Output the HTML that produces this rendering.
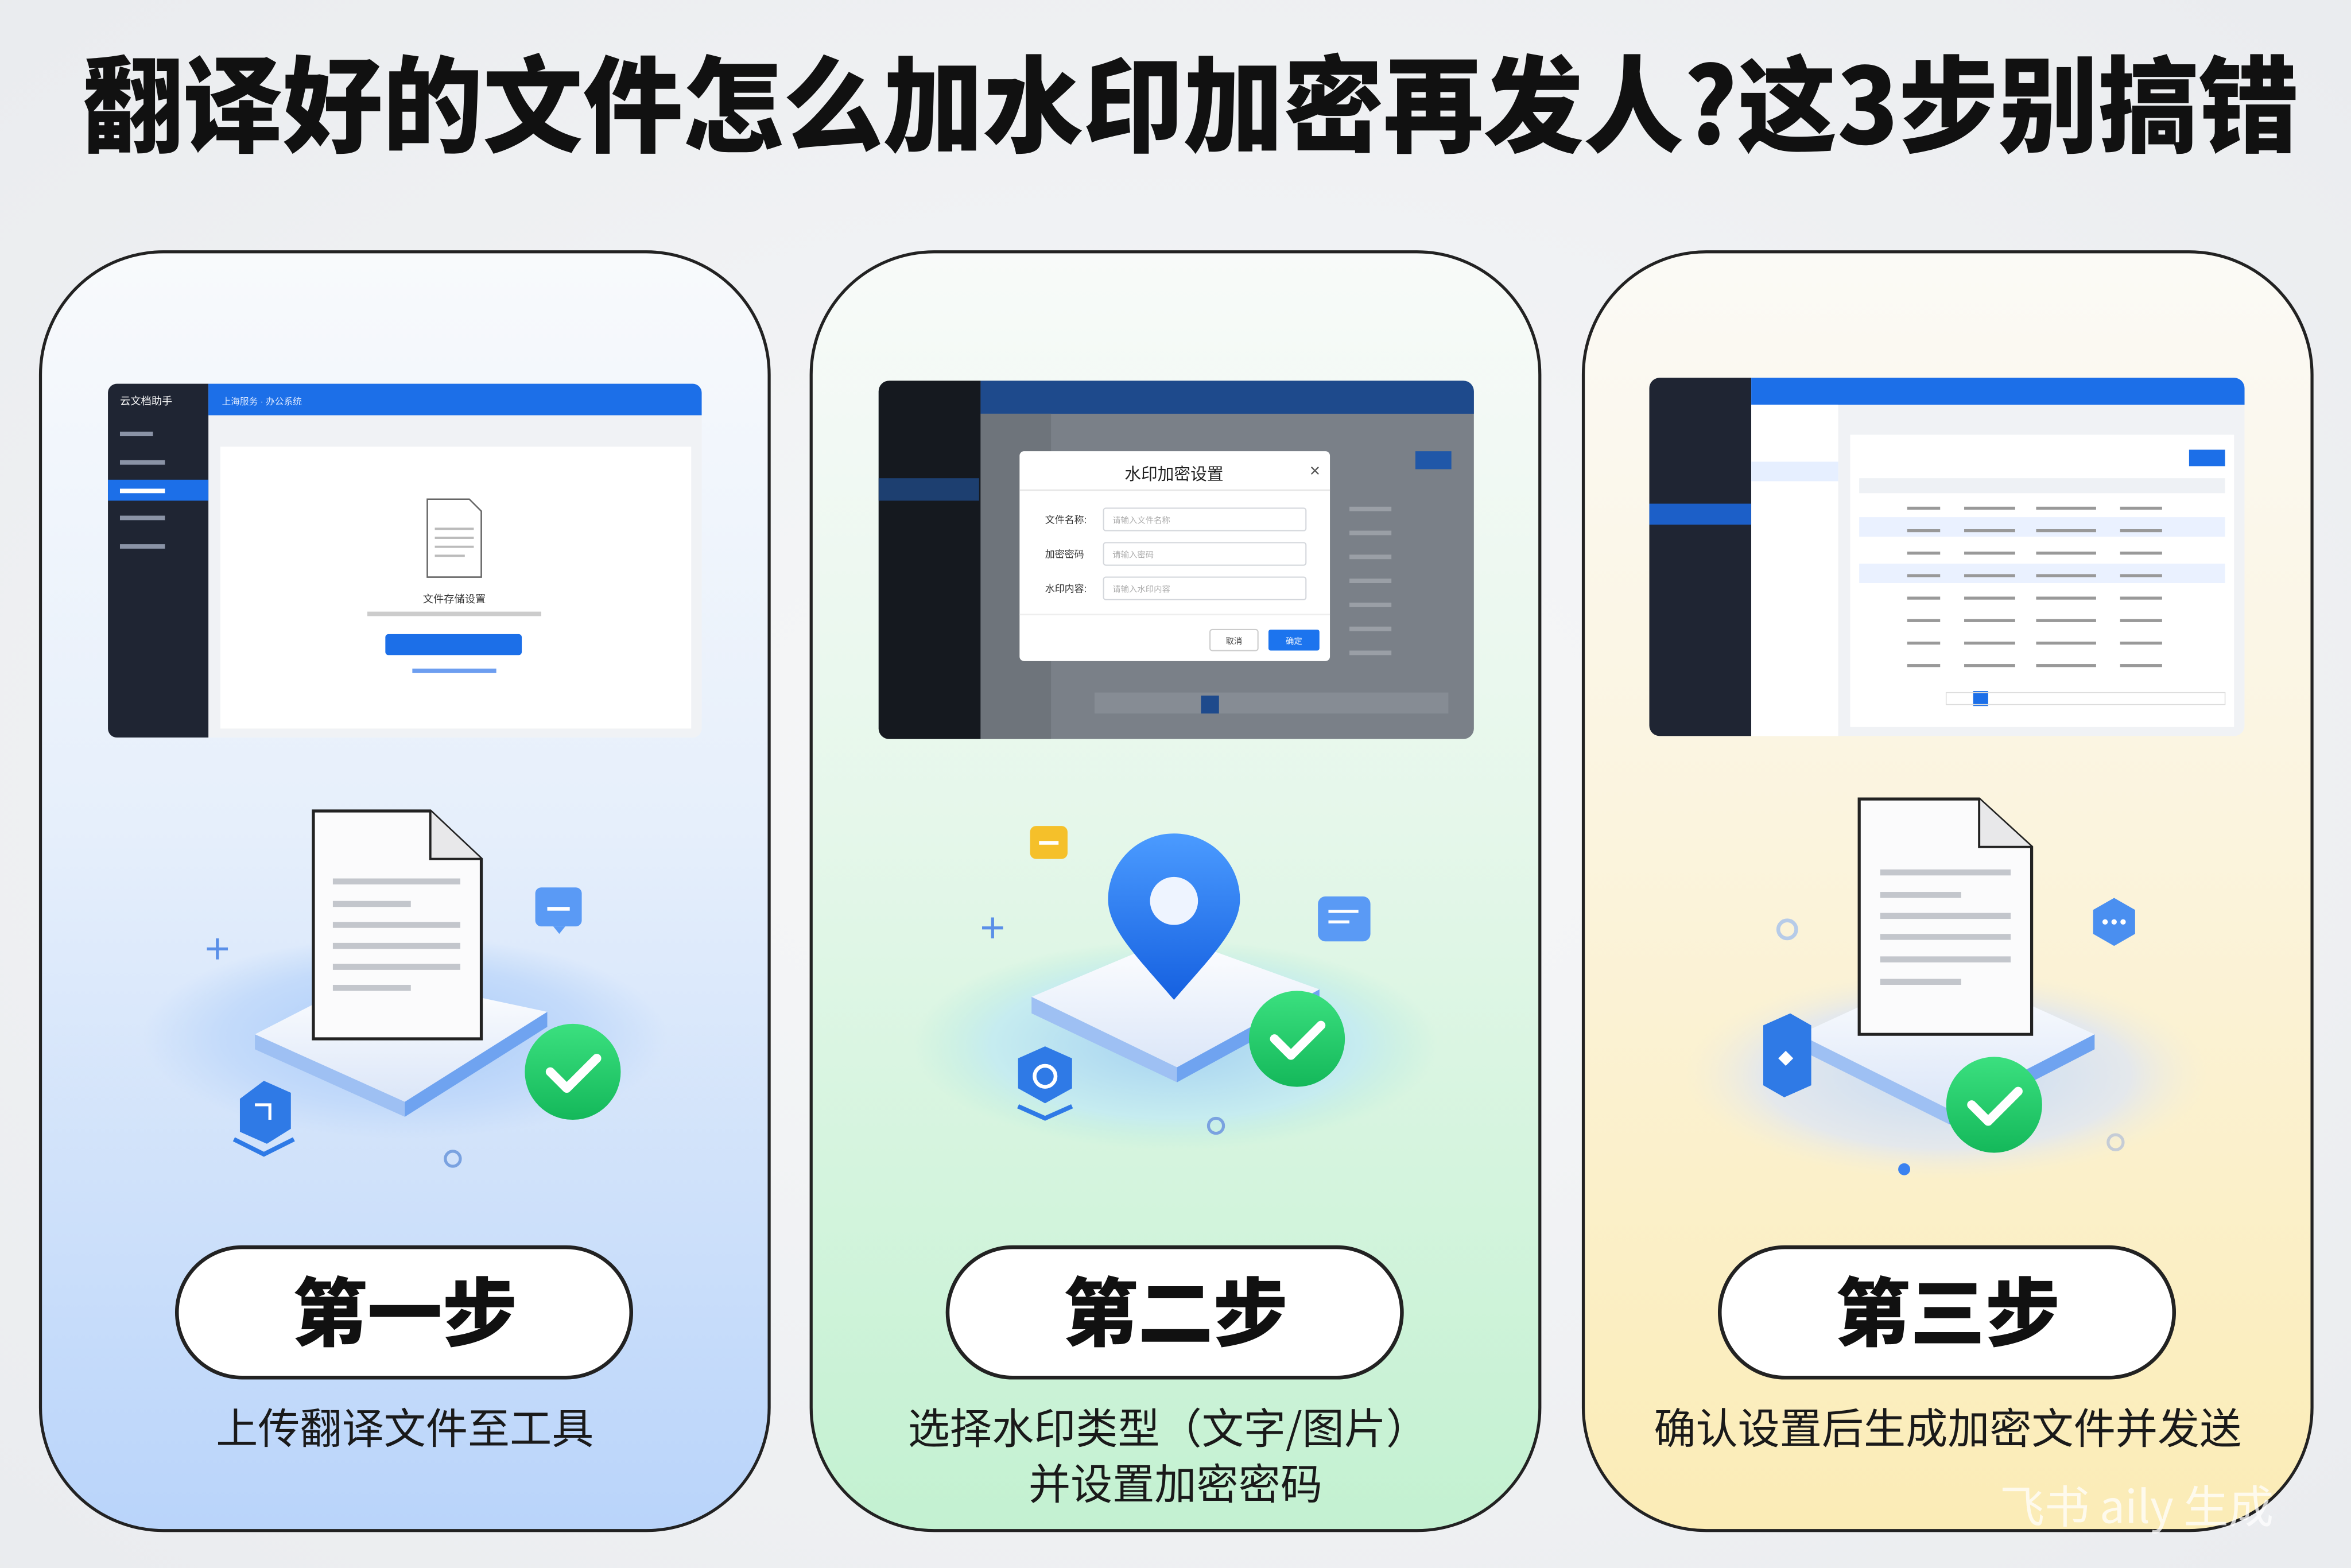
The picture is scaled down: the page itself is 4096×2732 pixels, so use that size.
<!DOCTYPE html>
<html><head><meta charset="utf-8">
<style>
html,body{margin:0;padding:0;background:#eff1f3;}
svg{display:block;font-family:"Liberation Sans","Noto Sans CJK SC",sans-serif;}
</style></head>
<body>
<svg width="4096" height="2732" viewBox="0 0 1568 1046" preserveAspectRatio="none" xmlns="http://www.w3.org/2000/svg">
<defs>
<radialGradient id="bg" cx="0.5" cy="0.5" r="0.75"><stop offset="0" stop-color="#f7f8f9"/><stop offset="1" stop-color="#e9ebee"/></radialGradient>
<linearGradient id="g1" x1="0" y1="0" x2="0" y2="1"><stop offset="0" stop-color="#f8fafc"/><stop offset="0.45" stop-color="#e6effb"/><stop offset="1" stop-color="#b9d4fa"/></linearGradient>
<linearGradient id="g2" x1="0" y1="0" x2="0" y2="1"><stop offset="0" stop-color="#f8faf9"/><stop offset="0.45" stop-color="#e5f7ea"/><stop offset="1" stop-color="#c3f1d1"/></linearGradient>
<linearGradient id="g3" x1="0" y1="0" x2="0" y2="1"><stop offset="0" stop-color="#fbfaf6"/><stop offset="0.45" stop-color="#fbf4de"/><stop offset="1" stop-color="#fbecb6"/></linearGradient>
<radialGradient id="glowB"><stop offset="0" stop-color="#a9cbf8"/><stop offset="0.7" stop-color="#c4dbfa"/><stop offset="1" stop-color="#c4dbfa" stop-opacity="0"/></radialGradient>
<radialGradient id="glowG"><stop offset="0" stop-color="#a6d2f2"/><stop offset="0.7" stop-color="#c6ecf0"/><stop offset="1" stop-color="#bfeedd" stop-opacity="0"/></radialGradient>
<radialGradient id="glowY"><stop offset="0" stop-color="#c8dcf3"/><stop offset="0.7" stop-color="#e4e8ec"/><stop offset="1" stop-color="#f3eed8" stop-opacity="0"/></radialGradient>
<linearGradient id="plat" x1="0" y1="0" x2="0" y2="1"><stop offset="0" stop-color="#ffffff"/><stop offset="1" stop-color="#dbe6f8"/></linearGradient>
<linearGradient id="chk" x1="0" y1="0" x2="0" y2="1"><stop offset="0" stop-color="#3be07f"/><stop offset="1" stop-color="#14b85a"/></linearGradient>
<linearGradient id="pin" x1="0" y1="0" x2="0" y2="1"><stop offset="0" stop-color="#4b9bff"/><stop offset="1" stop-color="#1560e0"/></linearGradient>
</defs>
<rect width="1568" height="1046" fill="url(#bg)"/>
<text x="794" y="96" text-anchor="middle" font-size="70" font-weight="900" fill="#111" textLength="1478" lengthAdjust="spacingAndGlyphs" style="font-family:'Noto Sans CJK SC',sans-serif">翻译好的文件怎么加水印加密再发人?这3步别搞错</text>

<rect x="27" y="168" width="486" height="853" rx="82" fill="url(#g1)" stroke="#222" stroke-width="2"/>
<rect x="541" y="168" width="486" height="853" rx="82" fill="url(#g2)" stroke="#222" stroke-width="2"/>
<rect x="1056" y="168" width="486" height="853" rx="82" fill="url(#g3)" stroke="#222" stroke-width="2"/>

<!-- screenshot 1 -->
<g>
<rect x="72" y="256" width="396" height="236" rx="6" fill="#f0f2f5"/>
<path d="M78 256 H139 V492 H78 a6 6 0 0 1 -6 -6 V262 a6 6 0 0 1 6 -6z" fill="#1f2533"/>
<path d="M139 256 H462 a6 6 0 0 1 6 6 V277 H139z" fill="#1c6fe8"/>
<rect x="72" y="320" width="67" height="14" fill="#1c6fe8"/>
<g fill="#8a93a6"><rect x="80" y="288" width="22" height="3"/><rect x="80" y="307" width="30" height="3"/><rect x="80" y="344" width="30" height="3"/><rect x="80" y="363" width="30" height="3"/></g>
<rect x="80" y="326" width="30" height="3" fill="#fff"/>
<text x="80" y="270" font-size="7" fill="#fff">云文档助手</text>
<text x="148" y="270" font-size="6" fill="#dce8ff">上海服务 · 办公系统</text>
<rect x="147" y="298" width="314" height="188" fill="#fff"/>
<path d="M285 333 h28 l8 8 v44 h-36z" fill="#fff" stroke="#666" stroke-width="1"/>
<g fill="#bbb"><rect x="290" y="352" width="26" height="1.5"/><rect x="290" y="358" width="26" height="1.5"/><rect x="290" y="364" width="26" height="1.5"/><rect x="290" y="370" width="20" height="1.5"/></g>
<text x="303" y="402" font-size="7" text-anchor="middle" fill="#333">文件存储设置</text>
<rect x="245" y="408" width="116" height="3" fill="#ccc"/>
<rect x="257" y="423" width="91" height="14" rx="2" fill="#1c6fe8"/>
<rect x="275" y="446" width="56" height="3" fill="#6d9ef0"/>
</g>

<!-- screenshot 2 -->
<g>
<rect x="586" y="254" width="397" height="239" rx="7" fill="#7a8088"/>
<path d="M593 254 H654 V493 H593 a7 7 0 0 1 -7 -7 V261 a7 7 0 0 1 7 -7z" fill="#15191f"/>
<path d="M654 254 H976 a7 7 0 0 1 7 7 V276 H654z" fill="#1e4a8c"/>
<rect x="586" y="319" width="67" height="15" fill="#1d3f70"/>
<rect x="654" y="276" width="47" height="217" fill="#6e747b"/>
<rect x="944" y="301" width="24" height="12" fill="#2057a8"/>
<g fill="#9a9fa6"><rect x="900" y="338" width="28" height="3"/><rect x="900" y="354" width="28" height="3"/><rect x="900" y="370" width="28" height="3"/><rect x="900" y="386" width="28" height="3"/><rect x="900" y="402" width="28" height="3"/><rect x="900" y="418" width="28" height="3"/><rect x="900" y="434" width="28" height="3"/></g>
<rect x="730" y="462" width="236" height="14" fill="#868c94"/>
<rect x="801" y="464" width="12" height="12" fill="#1e4a8c"/>
<rect x="680" y="301" width="207" height="140" rx="3" fill="#fff"/>
<text x="783" y="320" text-anchor="middle" font-size="11" fill="#222">水印加密设置</text>
<text x="877" y="318" text-anchor="middle" font-size="12" fill="#555">×</text>
<line x1="680" y1="327" x2="887" y2="327" stroke="#e6e6e6"/>
<g font-size="6.5" fill="#333"><text x="697" y="349">文件名称:</text><text x="697" y="372">加密密码</text><text x="697" y="395">水印内容:</text></g>
<g fill="#fff" stroke="#d4d7dc" stroke-width="0.8"><rect x="736" y="339" width="135" height="15" rx="1.5"/><rect x="736" y="362" width="135" height="15" rx="1.5"/><rect x="736" y="385" width="135" height="15" rx="1.5"/></g>
<g font-size="5.5" fill="#aaa"><text x="742" y="349">请输入文件名称</text><text x="742" y="372">请输入密码</text><text x="742" y="395">请输入水印内容</text></g>
<line x1="680" y1="410" x2="887" y2="410" stroke="#eee"/>
<rect x="807" y="420" width="32" height="14" rx="1.5" fill="#fff" stroke="#ccc" stroke-width="0.8"/>
<rect x="846" y="420" width="34" height="14" rx="1.5" fill="#1c74ee"/>
<text x="823" y="429.5" font-size="5.5" text-anchor="middle" fill="#444">取消</text>
<text x="863" y="429.5" font-size="5.5" text-anchor="middle" fill="#fff">确定</text>
</g>

<!-- screenshot 3 -->
<g>
<rect x="1100" y="252" width="397" height="239" rx="7" fill="#f0f2f5"/>
<path d="M1107 252 H1168 V491 H1107 a7 7 0 0 1 -7 -7 V259 a7 7 0 0 1 7 -7z" fill="#1f2533"/>
<path d="M1168 252 H1490 a7 7 0 0 1 7 7 V270 H1168z" fill="#1c6fe8"/>
<rect x="1100" y="336" width="68" height="14" fill="#1c5fc8"/>
<rect x="1168" y="270" width="58" height="221" fill="#fff"/>
<rect x="1168" y="308" width="58" height="13" fill="#e6efff"/>
<rect x="1234" y="290" width="256" height="195" fill="#fff"/>
<rect x="1460" y="300" width="24" height="11" fill="#1c6fe8"/>
<rect x="1240" y="319" width="244" height="10" fill="#eef1f5"/>
<g fill="#eaf1ff"><rect x="1240" y="345" width="244" height="13"/><rect x="1240" y="376" width="244" height="13"/></g>
<g fill="#999"><rect x="1272" y="338" width="22" height="2"/><rect x="1310" y="338" width="34" height="2"/><rect x="1358" y="338" width="40" height="2"/><rect x="1414" y="338" width="28" height="2"/>
<rect x="1272" y="353" width="22" height="2"/><rect x="1310" y="353" width="34" height="2"/><rect x="1358" y="353" width="40" height="2"/><rect x="1414" y="353" width="28" height="2"/>
<rect x="1272" y="368" width="22" height="2"/><rect x="1310" y="368" width="34" height="2"/><rect x="1358" y="368" width="40" height="2"/><rect x="1414" y="368" width="28" height="2"/>
<rect x="1272" y="383" width="22" height="2"/><rect x="1310" y="383" width="34" height="2"/><rect x="1358" y="383" width="40" height="2"/><rect x="1414" y="383" width="28" height="2"/>
<rect x="1272" y="398" width="22" height="2"/><rect x="1310" y="398" width="34" height="2"/><rect x="1358" y="398" width="40" height="2"/><rect x="1414" y="398" width="28" height="2"/>
<rect x="1272" y="413" width="22" height="2"/><rect x="1310" y="413" width="34" height="2"/><rect x="1358" y="413" width="40" height="2"/><rect x="1414" y="413" width="28" height="2"/>
<rect x="1272" y="428" width="22" height="2"/><rect x="1310" y="428" width="34" height="2"/><rect x="1358" y="428" width="40" height="2"/><rect x="1414" y="428" width="28" height="2"/>
<rect x="1272" y="443" width="22" height="2"/><rect x="1310" y="443" width="34" height="2"/><rect x="1358" y="443" width="40" height="2"/><rect x="1414" y="443" width="28" height="2"/></g>
<rect x="1316" y="461" width="10" height="10" fill="#1c6fe8"/>
<rect x="1298" y="462" width="186" height="8" fill="none" stroke="#ddd" stroke-width="0.6"/>
</g>

<!-- illustration 1 -->
<ellipse cx="270" cy="692" rx="175" ry="68" fill="url(#glowB)"/>
<path d="M170 690 L248 650 L365 675 L270 735 Z" fill="url(#plat)"/>
<path d="M170 690 L270 735 L270 745 L170 700 Z" fill="#9ec0f3"/>
<path d="M270 735 L365 675 L365 685 L270 745 Z" fill="#6fa3f0"/>
<path d="M209 541 h78 l34 32 v120 h-112z" fill="#fbfbfc" stroke="#222" stroke-width="2"/>
<path d="M287 541 v32 h34" fill="#e8e8ea" stroke="#222" stroke-width="1.5"/>
<g fill="#c3c6cc"><rect x="222" y="586" width="85" height="4"/><rect x="222" y="601" width="52" height="4"/><rect x="222" y="615" width="85" height="4"/><rect x="222" y="629" width="85" height="4"/><rect x="222" y="643" width="85" height="4"/><rect x="222" y="657" width="52" height="4"/></g>
<circle cx="382" cy="715" r="32" fill="url(#chk)"/>
<path d="M367 715 l11 11 l20 -20" fill="none" stroke="#fff" stroke-width="6" stroke-linecap="round" stroke-linejoin="round"/>
<rect x="357" y="592" width="31" height="26" rx="4" fill="#5a9af5"/><rect x="365" y="605" width="15" height="2.5" fill="#fff"/><path d="M369 618 l4 5 l4 -5z" fill="#5a9af5"/>
<path d="M145 626 v14 M138 633 h14" stroke="#5a8fe8" stroke-width="2"/>
<path d="M160 733 l16 -12 l18 8 v24 l-16 10 l-18 -8z" fill="#2f7ae6"/><path d="M170 737 h10 v10" stroke="#fff" stroke-width="2" fill="none"/><path d="M156 760 l20 10 l20 -10" stroke="#2f7ae6" stroke-width="3" fill="none"/>
<circle cx="302" cy="773" r="5" fill="none" stroke="#7aa2e0" stroke-width="2"/>

<!-- illustration 2 -->
<ellipse cx="784" cy="697" rx="175" ry="70" fill="url(#glowG)"/>
<path d="M688 665 L783 625 L880 660 L785 712 Z" fill="url(#plat)"/>
<path d="M688 665 L785 712 L785 722 L688 676 Z" fill="#9ec0f3"/>
<path d="M785 712 L880 660 L880 670 L785 722 Z" fill="#6fa3f0"/>
<path d="M783 667 C760 640 739 620 739 600 a44 44 0 0 1 88 0 C827 620 806 640 783 667z" fill="url(#pin)"/>
<circle cx="783" cy="601" r="16" fill="#eef4ff"/>
<circle cx="865" cy="693" r="32" fill="url(#chk)"/>
<path d="M850 693 l11 11 l20 -20" fill="none" stroke="#fff" stroke-width="6" stroke-linecap="round" stroke-linejoin="round"/>
<rect x="687" y="551" width="25" height="22" rx="4" fill="#f5c02a"/><rect x="693" y="561" width="13" height="2.5" fill="#fff"/>
<rect x="879" y="598" width="35" height="30" rx="5" fill="#5a9af5"/><g stroke="#fff" stroke-width="2"><path d="M886 608 h20 M886 615 h14"/></g>
<path d="M662 612 v14 M655 619 h14" stroke="#5a8fe8" stroke-width="2"/>
<path d="M697 698 l18 8 v20 l-18 10 l-18 -10 v-20z" fill="#2f7ae6"/>
<circle cx="697" cy="718" r="7" fill="none" stroke="#fff" stroke-width="2.5"/>
<path d="M679 738 l18 8 l18 -8" stroke="#2f7ae6" stroke-width="3" fill="none"/>
<circle cx="811" cy="751" r="5" fill="none" stroke="#7aa2e0" stroke-width="2"/>

<!-- illustration 3 -->
<ellipse cx="1298" cy="717" rx="175" ry="70" fill="url(#glowY)"/>
<path d="M1200 690 L1298 645 L1397 690 L1300 740 Z" fill="url(#plat)"/>
<path d="M1200 690 L1300 740 L1300 750 L1200 700 Z" fill="#9ec0f3"/>
<path d="M1300 740 L1397 690 L1397 700 L1300 750 Z" fill="#6fa3f0"/>
<path d="M1240 533 h80 l35 32 v125 h-115z" fill="#fbfbfc" stroke="#222" stroke-width="2"/>
<path d="M1320 533 v32 h35" fill="#e8e8ea" stroke="#222" stroke-width="1.5"/>
<g fill="#c3c6cc"><rect x="1254" y="580" width="87" height="4"/><rect x="1254" y="595" width="54" height="4"/><rect x="1254" y="609" width="87" height="4"/><rect x="1254" y="623" width="87" height="4"/><rect x="1254" y="638" width="87" height="4"/><rect x="1254" y="653" width="54" height="4"/></g>
<circle cx="1330" cy="737" r="32" fill="url(#chk)"/>
<path d="M1315 737 l11 11 l20 -20" fill="none" stroke="#fff" stroke-width="6" stroke-linecap="round" stroke-linejoin="round"/>
<path d="M1176 684 l18 -8 l14 8 v40 l-18 8 l-14 -8z" fill="#2f7ae6"/><path d="M1186 706 l5 -5 l5 5 l-5 5z" fill="#fff"/>
<path d="M1410 599 l14 8 v16 l-14 8 l-14 -8 v-16z" fill="#4a8ff0"/><g fill="#fff"><circle cx="1404" cy="615" r="1.8"/><circle cx="1410" cy="615" r="1.8"/><circle cx="1416" cy="615" r="1.8"/></g>
<circle cx="1192" cy="620" r="6" fill="none" stroke="#b6cbe8" stroke-width="2.5"/>
<circle cx="1270" cy="780" r="4" fill="#3b82f0"/>
<circle cx="1411" cy="762" r="5" fill="none" stroke="#c5ccd6" stroke-width="2"/>

<!-- pills -->
<g style="font-family:'Noto Sans CJK SC',sans-serif" font-weight="900" font-size="50" fill="#111" text-anchor="middle">
<rect x="118" y="832" width="303" height="87" rx="43.5" fill="#fff" stroke="#222" stroke-width="2.5"/>
<text x="270" y="894">第一步</text>
<rect x="632" y="832" width="303" height="87" rx="43.5" fill="#fff" stroke="#222" stroke-width="2.5"/>
<text x="784" y="894">第二步</text>
<rect x="1147" y="832" width="303" height="87" rx="43.5" fill="#fff" stroke="#222" stroke-width="2.5"/>
<text x="1299" y="894">第三步</text>
</g>
<g style="font-family:'Noto Sans CJK SC',sans-serif" font-size="28" fill="#1a1a1a" text-anchor="middle">
<text x="270" y="963">上传翻译文件至工具</text>
<text x="779" y="963">选择水印类型（文字/图片）</text>
<text x="784" y="1000">并设置加密密码</text>
<text x="1299" y="963">确认设置后生成加密文件并发送</text>
</g>
<text x="1425" y="1016" text-anchor="middle" font-size="30" fill="#ffffff" opacity="0.75" style="font-family:'Noto Sans CJK SC',sans-serif">飞书 aily 生成</text>
</svg>
</body></html>
